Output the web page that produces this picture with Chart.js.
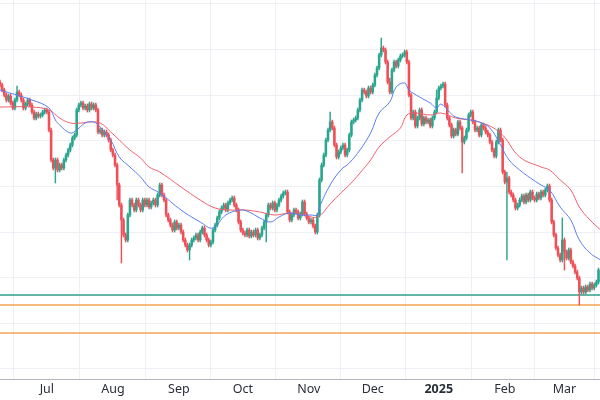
<!DOCTYPE html>
<html><head><meta charset="utf-8">
<script src="https://cdn.jsdelivr.net/npm/chart.js@4"></script>
<style>html,body{margin:0;padding:0;background:#fff}#w{width:600px;height:400px}</style>
</head><body><div id="w"><canvas id="c"></canvas></div>
<script>
// Daily closes (chart level units: 400 - screen level), day 0 = 9 Jun 2024
const closeLevels = [85,90,95,100,96,103,108,100,92,95,
100,108,104,100,105,112,118,114,116,115,
112,110,112,130,160,168,160,170,165,168,
160,155,150,145,138,135,110,105,103,108,
106,110,104,108,105,110,132,130,135,132,
135,140,150,155,165,185,205,220,235,240,
215,200,205,210,200,205,210,200,205,200,
207,203,200,205,195,185,195,200,215,220,
225,230,222,228,225,232,240,245,250,245,
240,238,235,240,232,228,235,240,245,242,
230,225,218,212,208,205,210,203,200,198,
205,210,222,230,233,235,230,236,232,235,
230,238,235,228,222,215,205,208,203,210,
205,200,196,193,192,212,220,215,210,212,
218,214,202,214,218,222,220,226,232,215,
180,165,155,140,130,122,128,145,157,152,
148,145,155,150,135,122,120,118,110,100,
90,92,96,88,92,85,75,68,55,48,
50,62,82,92,70,62,66,60,56,55,
52,62,95,118,112,126,118,110,124,118,
122,120,126,118,112,98,88,86,84,105,
118,125,136,130,134,122,128,142,138,130,
115,112,122,130,128,135,125,128,132,135,
142,150,156,142,130,140,172,182,178,192,
195,200,208,205,200,196,202,195,200,192,
198,200,194,198,192,195,190,186,200,222,
235,248,255,260,240,252,258,250,262,266,
272,278,292,288,292,287,290,284,288,285,
282,270];
const highOverrides = [[155,112],[179,38],[183,78],[205,90],[264,218],[238,172],[0,80],[8,86]];
const lowOverrides = [[26,183],[57,263],[89,260],[55,200],[217,173],[238,260],[272,305],[265,270],[125,242]];
// Moving averages [day, level]
const maFast = [[0,90],[15,100],[23,108],[26,120],[28,125],[33,133],[36,130],[40,123],[44,122],[47,127],[52,140],[56,157],[61,167],[66,177],[70,187],[75,193],[85,210],[94,222],[100,228],[106,215],[113,210],[117,212],[122,218],[127,222],[131,217],[136,213],[141,215],[146,215],[149,215],[150,207],[155,185],[160,170],[164,163],[169,150],[174,133],[178,113],[183,102],[186,87],[190,83],[192,90],[197,97],[202,103],[205,108],[207,104],[211,112],[214,117],[221,120],[225,122],[230,128],[235,145],[239,160],[244,170],[249,178],[254,185],[258,190],[263,207],[268,220],[272,240],[277,253],[282,260]];
const maSlow = [[0,107],[15,107],[23,110],[28,118],[33,123],[38,123],[42,122],[47,123],[52,132],[56,140],[61,150],[66,158],[70,167],[75,172],[85,187],[94,200],[101,208],[108,210],[115,210],[122,212],[129,215],[136,213],[143,215],[149,217],[155,204],[160,193],[164,185],[169,173],[174,160],[178,147],[183,137],[188,128],[191,115],[195,113],[202,115],[207,113],[214,118],[225,122],[235,133],[244,157],[254,167],[258,170],[263,180],[268,190],[272,207],[277,220],[282,230]];
const monthDays = [22,53,84,114,145,175,206,237,265];
const monthLabels = ['Jul','Aug','Sep','Oct','Nov','Dec','2025','Feb','Mar'];
const levelLines = [[295,'#2f9e88',1.6],[305,'#f5a350',1.6],[333,'#f5a350',1.6]];
const gridLevels = [3,49,95,140,186,232,277,323,368];

const P = v => 400 - v;
const up='#2aa58e', dn='#ef4f57';
const bodies=[], wicks=[], bc=[], wc=[];
const hi={}, lo={};
highOverrides.forEach(([d,v])=>hi[d]=v); lowOverrides.forEach(([d,v])=>lo[d]=v);
closeLevels.forEach((c,i)=>{
  const o = i===0 ? 82 : closeLevels[i-1];
  let b0=o, b1=c; if (Math.abs(b0-b1)<1){b1=b0+1;}
  const h = hi[i]!==undefined ? hi[i] : Math.min(o,c)-2;
  const l = lo[i]!==undefined ? lo[i] : Math.max(o,c)+2;
  const col = c<=o ? up : dn;
  bodies.push({x:i,y:[P(b0),P(b1)]}); bc.push(col);
  wicks.push({x:i,y:[P(l),P(h)]}); wc.push(col);
});
const lvlPlugin={id:'lv',beforeDatasetsDraw(ch){
  const {ctx,chartArea:a,scales:{y}}=ch;
  ctx.save();
  levelLines.forEach(([v,c,w])=>{const py=y.getPixelForValue(P(v));ctx.strokeStyle=c;ctx.lineWidth=w;ctx.beginPath();ctx.moveTo(a.left,py);ctx.lineTo(a.right,py);ctx.stroke();});
  ctx.restore();}};
new Chart(document.getElementById('c'),{
  data:{datasets:[
    {type:'line',data:maFast.map(([d,v])=>({x:d,y:P(v)})),borderColor:'#5a7ff0',borderWidth:1,pointRadius:0,tension:0.4,order:0},
    {type:'line',data:maSlow.map(([d,v])=>({x:d,y:P(v)})),borderColor:'#f0606e',borderWidth:1,pointRadius:0,tension:0.4,order:0},
    {type:'bar',data:wicks,backgroundColor:wc,barThickness:0.8,grouped:false,order:2},
    {type:'bar',data:bodies,backgroundColor:bc,barThickness:1.9,grouped:false,order:1}
  ]},
  plugins:[lvlPlugin],
  options:{responsive:true,maintainAspectRatio:false,animation:false,
    layout:{padding:0},
    plugins:{legend:{display:false},tooltip:{enabled:false}},
    scales:{
      x:{type:'linear',min:0,max:281.7,offset:false,
        afterBuildTicks:s=>{s.ticks=monthDays.map(v=>({value:v}));},
        ticks:{autoSkip:false,maxRotation:0,padding:3,color:'#2a2e39',
          font:c=>({family:'Noto Sans',size:12.5,weight:c.tick&&c.tick.value===206?'bold':'normal'}),
          callback:(v)=>monthLabels[monthDays.indexOf(v)]},
        grid:{color:'#eef0f5',drawTicks:false},border:{color:'#b2b5be'}},
      y:{min:P(379),max:400,
        afterBuildTicks:s=>{s.ticks=gridLevels.map(v=>({value:P(v)}));},
        ticks:{display:false},grid:{color:'#eef0f5',drawTicks:false},border:{display:false}}
    }}
});
</script></body></html>
